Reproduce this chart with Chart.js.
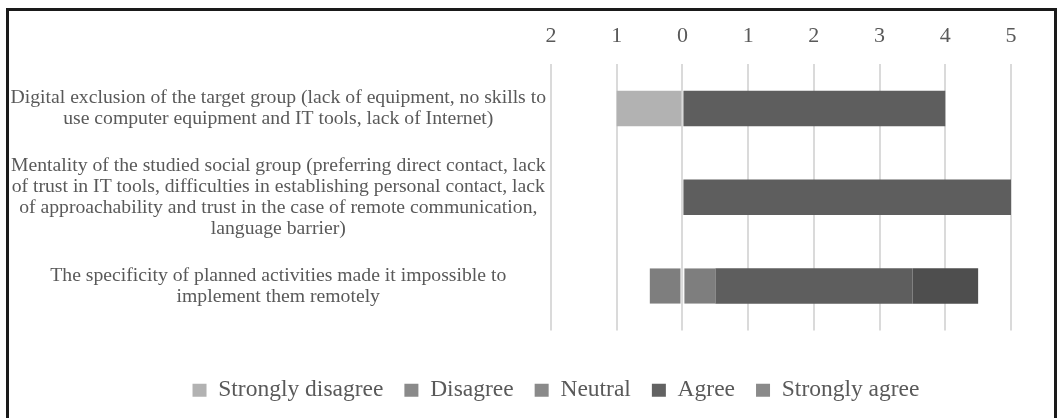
<!DOCTYPE html>
<html>
<head>
<meta charset="utf-8">
<script src="https://cdn.jsdelivr.net/npm/chart.js@4"></script>
<style>
  body { margin: 0; background: #fff; }
  #wrap { position: relative; width: 1058px; height: 418px; overflow: hidden; }
  #frame { position: absolute; left: 6px; top: 8px; width: 1045px; height: 430px; border: 3px solid #1a1a1a; box-sizing: content-box; pointer-events: none; }
  canvas { position: absolute; left: 0; top: 0; }
</style>
</head>
<body>
<div id="wrap">
  <canvas id="chart" width="1058" height="418"></canvas>
  <div id="frame"></div>
</div>
<script>
// 类别（多行标签）
const categories = [
  ["Digital exclusion of the target group (lack of equipment, no skills to",
   "use computer equipment and IT tools, lack of Internet)"],
  ["Mentality of the studied social group (preferring direct contact, lack",
   "of trust in IT tools, difficulties in establishing personal contact, lack",
   "of approachability and trust in the case of remote communication,",
   "language barrier)"],
  ["The specificity of planned activities made it impossible to",
   "implement them remotely"]
];

// 各回答的数值
const stronglyDisagree = [1, 0, 0];
const disagree = [0, 0, 0];
const neutral = [0, 0, 1];
const agree = [4, 5, 3];
const stronglyAgree = [0, 0, 1];

// 坐标轴刻度
const tickValues = [-2, -1, 0, 1, 2, 3, 4, 5];

const seriesNames = ["Strongly disagree", "Disagree", "Neutral", "Agree", "Strongly agree"];
const barColors = ["#b2b2b2", "#8a8a8a", "#7e7e7e", "#5e5e5e", "#4e4e4e"];
const legendColors = ["#b2b2b2", "#8a8a8a", "#8a8a8a", "#626262", "#8a8a8a"];

const serif = "'Liberation Serif', 'DejaVu Serif', serif";
const textColor = "#595959";

// 中立值平分到零点两侧
const datasets = [
  { label: seriesNames[0], data: stronglyDisagree.map((v) => -v), backgroundColor: barColors[0] },
  { label: seriesNames[1], data: disagree.map((v) => -v), backgroundColor: barColors[1] },
  { label: seriesNames[2], data: neutral.map((v) => -v / 2), backgroundColor: barColors[2],
    borderColor: "#ececec", borderWidth: { right: 1 }, borderSkipped: false },
  { label: seriesNames[2] + "_right", data: neutral.map((v) => v / 2), backgroundColor: barColors[2],
    borderColor: "#ececec", borderWidth: { left: 1 }, borderSkipped: false },
  { label: seriesNames[3], data: agree, backgroundColor: barColors[3] },
  { label: seriesNames[4], data: stronglyAgree, backgroundColor: barColors[4] }
];
datasets.forEach((d) => {
  d.barPercentage = 0.4;
  d.categoryPercentage = 1.0;
});

// 占位用的空坐标轴（只占空间）
const spacerAxis = (pos, size) => ({
  type: "linear",
  position: pos,
  display: true,
  ticks: { display: false },
  grid: { display: false, drawTicks: false },
  border: { display: false },
  afterFit: (scale) => {
    if (pos === "bottom") scale.height = size;
    else scale.width = size;
  }
});

// 图例整体向右移一点
const legendShift = {
  id: "legendShift",
  afterLayout(chart) {
    chart.legend.left += 23;
    chart.legend.right += 23;
  }
};

new Chart(document.getElementById("chart").getContext("2d"), {
  type: "bar",
  data: { labels: categories, datasets: datasets },
  plugins: [legendShift],
  options: {
    indexAxis: "y",
    responsive: false,
    animation: false,
    layout: { padding: { left: 8, right: 0, top: 8, bottom: 6 } },
    scales: {
      x: {
        position: "top",
        stacked: true,
        min: tickValues[0],
        max: tickValues[tickValues.length - 1],
        afterBuildTicks: (scale) => {
          scale.ticks = tickValues.map((v) => ({ value: v }));
        },
        ticks: {
          callback: (value) => Math.abs(value),
          color: textColor,
          font: { family: serif, size: 22 },
          padding: 15,
          maxRotation: 0
        },
        grid: { color: "#dadada", lineWidth: 2, drawTicks: false },
        border: { display: false },
        afterFit: (scale) => {
          scale.height = 56;
          scale.paddingLeft = 0;
          scale.paddingRight = 0;
        }
      },
      y: {
        stacked: true,
        ticks: {
          color: textColor,
          font: { family: serif, size: 19.7, lineHeight: 1.066 },
          crossAlign: "center",
          padding: 5,
          autoSkip: false
        },
        grid: { display: false, drawTicks: false },
        border: { display: false },
        afterFit: (scale) => {
          scale.width = 543;
          scale.paddingTop = 0;
          scale.paddingBottom = 0;
        }
      },
      x2: spacerAxis("bottom", 27),
      y2: spacerAxis("right", 47)
    },
    plugins: {
      legend: {
        position: "bottom",
        labels: {
          color: textColor,
          font: { family: serif, size: 23.5 },
          boxWidth: 14,
          boxHeight: 13,
          padding: 21,
          generateLabels: (chart) =>
            seriesNames.map((name, i) => ({
              text: name,
              fillStyle: legendColors[i],
              strokeStyle: legendColors[i],
              lineWidth: 0,
              hidden: false,
              fontColor: textColor,
              datasetIndex: i
            }))
        }
      },
      tooltip: { enabled: false }
    }
  }
});
</script>
</body>
</html>
